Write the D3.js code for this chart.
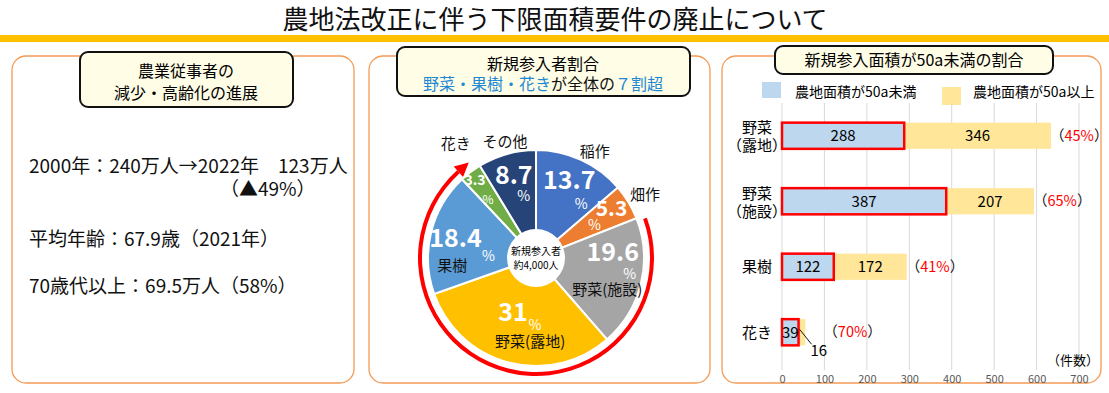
<!DOCTYPE html>
<html>
<head>
<meta charset="utf-8">
<script src="https://cdn.jsdelivr.net/npm/d3@7"></script>
<style>
body { margin: 0; background: #fff; }
svg { display: block; font-family: "Noto Sans CJK JP", "Noto Sans", sans-serif; }
</style>
</head>
<body>
<svg width="1109" height="393"></svg>
<script>
// ---- data ----
var titleText = "農地法改正に伴う下限面積要件の廃止について";
var summaryLines = ["2000年：240万人→2022年　123万人", "（▲49%）", "平均年齢：67.9歳（2021年）", "70歳代以上：69.5万人（58%）"];

var pieNames = ["稲作", "畑作", "野菜(施設)", "野菜(露地)", "果樹", "花き", "その他"];
var pieValues = [13.7, 5.3, 19.6, 31, 18.4, 3.3, 8.7];

var barCats = ["野菜（露地）", "野菜（施設）", "果樹", "花き"];
var under50 = [288, 387, 122, 39];
var over50 = [346, 207, 172, 16];
var sharePct = [45, 65, 41, 70];
var xTicks = [0, 100, 200, 300, 400, 500, 600, 700];

var svg = d3.select("svg");
var orange = "#F39A55", blueTxt = "#1E88D2";

// ---- title ----
svg.append("text").attr("x", 555).attr("y", 29).attr("text-anchor", "middle")
    .attr("font-size", 26).attr("fill", "#111").text(titleText);
svg.append("rect").attr("x", 0).attr("y", 35).attr("width", 1109).attr("height", 7).attr("fill", "#FFC000");

// ---- panels ----
var panels = [[12, 354], [369, 710], [722, 1101]];
panels.forEach(function(p) {
  svg.append("rect").attr("x", p[0]).attr("y", 56).attr("width", p[1] - p[0]).attr("height", 327)
      .attr("rx", 14).attr("fill", "#fff").attr("stroke", orange).attr("stroke-width", 1.3);
});

function headerBox(x, y, w, h) {
  svg.append("rect").attr("x", x).attr("y", y).attr("width", w).attr("height", h)
      .attr("rx", 8).attr("fill", "#FFFDE6").attr("stroke", "#111").attr("stroke-width", 2);
}

// panel 1
headerBox(80, 52, 213, 55);
svg.append("text").attr("x", 186).attr("y", 77).attr("text-anchor", "middle").attr("font-size", 16).text("農業従事者の");
svg.append("text").attr("x", 186).attr("y", 99).attr("text-anchor", "middle").attr("font-size", 16).text("減少・高齢化の進展");

var sumPos = [[29, 173], [220, 196], [29, 246], [29, 293]];
summaryLines.forEach(function(t, i) {
  svg.append("text").attr("x", sumPos[i][0]).attr("y", sumPos[i][1])
      .attr("font-size", 19).attr("fill", "#111").text(t);
});

// panel 2 header
headerBox(397, 47, 293, 49);
svg.append("text").attr("x", 543).attr("y", 70).attr("text-anchor", "middle").attr("font-size", 16).text("新規参入者割合");
var h2 = svg.append("text").attr("x", 543).attr("y", 90).attr("text-anchor", "middle").attr("font-size", 16);
h2.append("tspan").attr("fill", blueTxt).text("野菜・果樹・花き");
h2.append("tspan").attr("fill", "#111").text("が全体の");
h2.append("tspan").attr("fill", blueTxt).text("７割超");

// ---- pie ----
var cx = 536, cy = 258, R = 108;
var pieColors = ["#4472C4", "#ED7D31", "#A5A5A5", "#FFC000", "#5B9BD5", "#70AD47", "#264478"];
var pie = d3.pie().sort(null).value(function(d) { return d; });
var arcs = pie(pieValues);
var arc = d3.arc().innerRadius(0).outerRadius(R);
var gp = svg.append("g").attr("transform", "translate(" + cx + "," + cy + ")");

// red arrow arc
var deg = Math.PI / 180;
var a0 = 70 * deg, a1 = 318 * deg, rr = 116;
gp.append("path").attr("d", d3.arc().innerRadius(rr - 2).outerRadius(rr + 2)({startAngle: a0, endAngle: a1}))
    .attr("fill", "#FF0000");
var ex = rr * Math.sin(a1), ey = -rr * Math.cos(a1);
var tx = Math.cos(a1), ty = Math.sin(a1), nx = -ty, ny = tx;
gp.append("path").attr("fill", "#FF0000")
    .attr("d", "M" + (ex + tx * 14) + "," + (ey + ty * 14) +
      "L" + (ex + nx * 7) + "," + (ey + ny * 7) +
      "L" + (ex - nx * 7) + "," + (ey - ny * 7) + "Z");

gp.selectAll("path.slice").data(arcs).enter().append("path").attr("class", "slice")
    .attr("d", arc).attr("fill", function(d, i) { return pieColors[i]; })
    .attr("stroke", "#fff").attr("stroke-width", 2);
gp.append("circle").attr("r", 29).attr("fill", "#fff");
gp.append("text").attr("y", -3).attr("text-anchor", "middle").attr("font-size", 10).text("新規参入者");
gp.append("text").attr("y", 11).attr("text-anchor", "middle").attr("font-size", 10).text("約4,000人");

// value labels: [angle deg, radius, font size, %dx, %dy]
var numLay = [[23, 85, 25, 12, 24], [57, 90, 21, -17, 16], [85.5, 77, 25, 17, 22], [203, 59, 25, 22, 13],
              [284, 83, 25, 33, 18], [322, 99, 14, 13, 20], [345, 86, 25, 10, 21]];
arcs.forEach(function(d, i) {
  var L = numLay[i];
  var px = L[1] * Math.sin(L[0] * deg), py = -L[1] * Math.cos(L[0] * deg);
  gp.append("text").attr("x", px).attr("y", py).attr("dy", "0.35em").attr("text-anchor", "middle")
      .attr("font-size", L[2]).attr("font-weight", "bold").attr("fill", "#fff")
      .text(d3.format("")(pieValues[i]));
  gp.append("text").attr("x", px + L[3]).attr("y", py + L[4]).attr("dy", "0.35em").attr("text-anchor", "middle")
      .attr("font-size", L[2] > 20 ? 14 : 12).attr("fill", "#fff").text("%");
});

// category labels: [angle deg, radius]
var nameLay = [[29, 121], [60, 126], [114, 78], [184, 84], [265, 84], [325, 140], [345, 120]];
pieNames.forEach(function(n, i) {
  var L = nameLay[i];
  gp.append("text").attr("x", L[1] * Math.sin(L[0] * deg)).attr("y", -L[1] * Math.cos(L[0] * deg))
      .attr("dy", "0.35em").attr("text-anchor", "middle").attr("font-size", 15).attr("fill", "#111").text(n);
});

// ---- panel 3: bars ----
headerBox(775, 46, 278, 28);
svg.append("text").attr("x", 914).attr("y", 66).attr("text-anchor", "middle").attr("font-size", 16).text("新規参入面積が50a未満の割合");

var blueFill = "#BDD7EE", yellowFill = "#FFE699";
svg.append("rect").attr("x", 762).attr("y", 82).attr("width", 19).attr("height", 16).attr("fill", blueFill);
svg.append("text").attr("x", 795).attr("y", 97).attr("font-size", 14).text("農地面積が50a未満");
svg.append("rect").attr("x", 942).attr("y", 87).attr("width", 19).attr("height", 18).attr("fill", yellowFill);
svg.append("text").attr("x", 973).attr("y", 97).attr("font-size", 14).text("農地面積が50a以上");

var x = d3.scaleLinear().domain([0, 700]).range([782, 1079]);
var y = d3.scaleBand().domain(barCats).range([103, 365]).paddingInner(0.6).paddingOuter(0.3);

svg.append("g").selectAll("line").data(xTicks).enter().append("line")
    .attr("x1", x).attr("x2", x).attr("y1", 103).attr("y2", 370)
    .attr("stroke", "#D9D9D9").attr("stroke-width", 1);

var ax = svg.append("g").attr("transform", "translate(0,371)")
    .call(d3.axisBottom(x).tickValues(xTicks).tickSize(0).tickPadding(4));
ax.select(".domain").remove();
ax.selectAll("text").attr("font-size", 11).attr("fill", "#595959").attr("font-family", "Noto Sans CJK JP");
svg.append("text").attr("x", 1099).attr("y", 365).attr("text-anchor", "end").attr("font-size", 13).text("（件数）");

barCats.forEach(function(c, i) {
  var yy = y(c), bw = y.bandwidth(), mid = yy + bw / 2;
  var endX = x(under50[i] + over50[i]);
  svg.append("rect").attr("x", x(under50[i])).attr("y", yy).attr("width", endX - x(under50[i]))
      .attr("height", bw).attr("fill", yellowFill);
  svg.append("rect").attr("x", x(0)).attr("y", yy).attr("width", x(under50[i]) - x(0))
      .attr("height", bw).attr("fill", blueFill).attr("stroke", "#FF0000").attr("stroke-width", 2.5);
  svg.append("text").attr("x", (x(0) + x(under50[i])) / 2).attr("y", mid).attr("dy", "0.35em")
      .attr("text-anchor", "middle").attr("font-size", 15).text(under50[i]);
  var pctX = endX - 1;
  if (over50[i] > 30) {
    svg.append("text").attr("x", (x(under50[i]) + endX) / 2).attr("y", mid).attr("dy", "0.35em")
        .attr("text-anchor", "middle").attr("font-size", 15).text(over50[i]);
  } else {
    var lx = x(under50[i]) + 1;
    svg.append("line").attr("x1", lx).attr("y1", mid - 3).attr("x2", lx + 12).attr("y2", mid + 12)
        .attr("stroke", "#111").attr("stroke-width", 1);
    svg.append("text").attr("x", lx + 11).attr("y", mid + 18).attr("dy", "0.35em")
        .attr("font-size", 15).text(over50[i]);
    pctX = endX + 18;
  }
  var pt = svg.append("text").attr("x", pctX).attr("y", mid).attr("dy", "0.35em").attr("font-size", 14.5);
  pt.append("tspan").attr("fill", "#111").text("（");
  pt.append("tspan").attr("fill", "#FF0000").text(sharePct[i] + "%");
  pt.append("tspan").attr("fill", "#111").text("）");

  var parts = c.split("（");
  if (parts.length > 1) {
    svg.append("text").attr("x", 757).attr("y", mid - 8).attr("dy", "0.35em").attr("text-anchor", "middle").attr("font-size", 15).text(parts[0]);
    svg.append("text").attr("x", 757).attr("y", mid + 10).attr("dy", "0.35em").attr("text-anchor", "middle").attr("font-size", 15).text("（" + parts[1]);
  } else {
    svg.append("text").attr("x", 757).attr("y", mid).attr("dy", "0.35em").attr("text-anchor", "middle").attr("font-size", 15).text(c);
  }
});
</script>
</body>
</html>
